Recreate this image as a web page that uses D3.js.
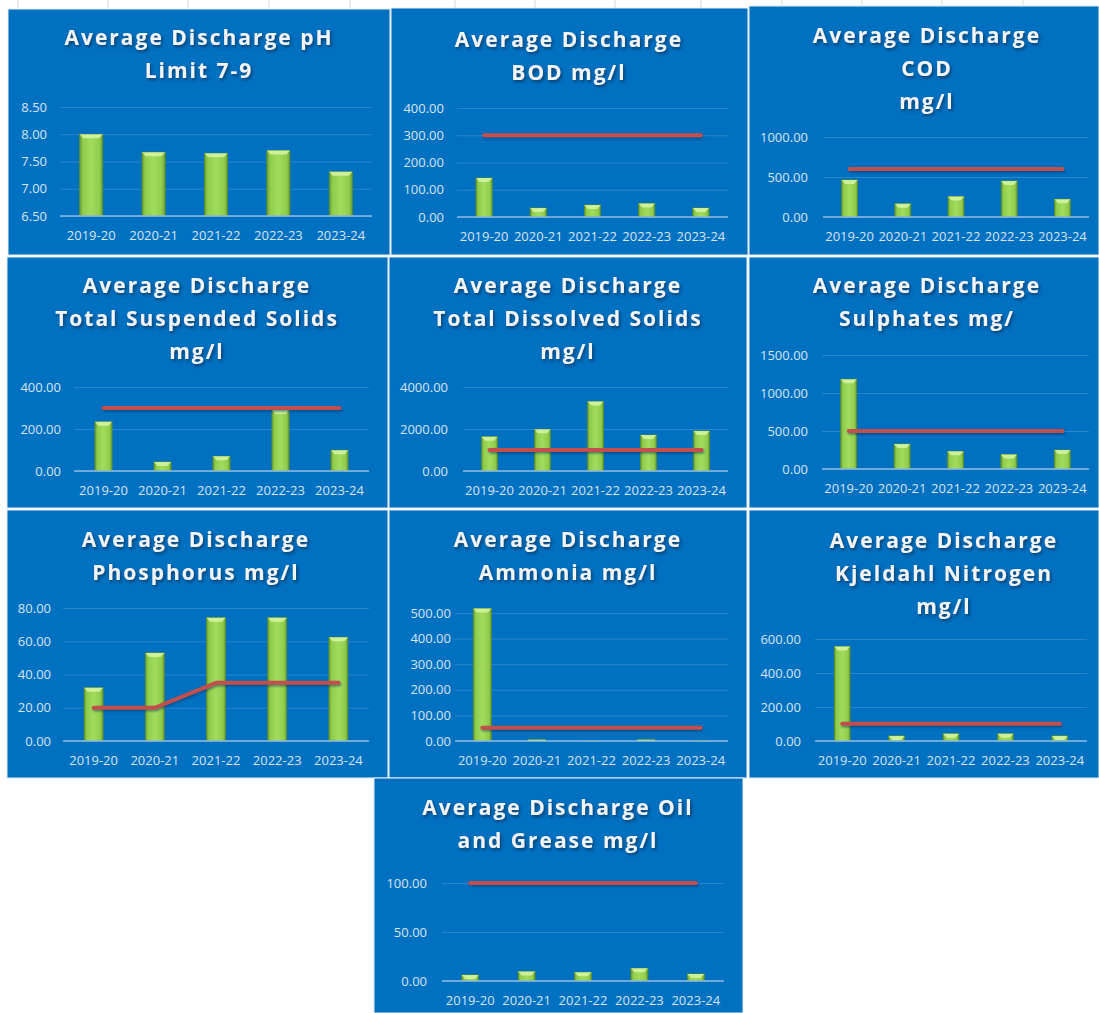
<!DOCTYPE html>
<html>
<head>
<meta charset="utf-8">
<script src="https://cdn.jsdelivr.net/npm/d3@7"></script>
<style>
  body { margin: 0; background: #ffffff; }
  svg { display: block; }
  .tick-label { font-family: "Open Sans", sans-serif; font-size: 13px; fill: #d8e5f3; }
  .chart-title { font-family: "Open Sans", sans-serif; font-weight: 700; font-size: 21px; fill: #f2f4f6; letter-spacing: 2px; }
</style>
</head>
<body>
<div id="charts"></div>
<script>
// categories
var years = ["2019-20", "2020-21", "2021-22", "2022-23", "2023-24"];

// series values
var phValues = [8.00, 7.67, 7.65, 7.70, 7.31];
var bodValues = [143, 33, 44, 50, 33];
var bodLimit = [300, 300, 300, 300, 300];
var codValues = [463, 165, 256, 450, 223];
var codLimit = [600, 600, 600, 600, 600];
var tssValues = [234, 43, 70, 291, 99];
var tssLimit = [300, 300, 300, 300, 300];
var tdsValues = [1632, 1984, 3312, 1712, 1904];
var tdsLimit = [1000, 1000, 1000, 1000, 1000];
var sulValues = [1181, 328, 232, 192, 249];
var sulLimit = [500, 500, 500, 500, 500];
var phosValues = [32, 53, 74.2, 74.2, 62.4];
var phosLimit = [20, 20, 35, 35, 35];
var ammValues = [518, 5, 0.5, 5, 1];
var ammLimit = [52, 52, 52, 52, 52];
var kjValues = [556, 30, 43, 43, 30];
var kjLimit = [102, 102, 102, 102, 102];
var oilValues = [6.2, 9.6, 8.9, 13, 7.2];
var oilLimit = [100, 100, 100, 100, 100];

// tick labels
var phTicks = [6.5, 7, 7.5, 8, 8.5];
var bodTicks = [0, 100, 200, 300, 400];
var codTicks = [0, 500, 1000];
var tssTicks = [0, 200, 400];
var tdsTicks = [0, 2000, 4000];
var sulTicks = [0, 500, 1000, 1500];
var phosTicks = [0, 20, 40, 60, 80];
var ammTicks = [0, 100, 200, 300, 400, 500];
var kjTicks = [0, 200, 400, 600];
var oilTicks = [0, 50, 100];

// titles
var phTitle = ["Average Discharge pH", "Limit 7-9"];
var bodTitle = ["Average Discharge", "BOD mg/l"];
var codTitle = ["Average Discharge", "COD", "mg/l"];
var tssTitle = ["Average Discharge", "Total Suspended Solids", "mg/l"];
var tdsTitle = ["Average Discharge", "Total Dissolved Solids", "mg/l"];
var sulTitle = ["Average Discharge", "Sulphates mg/"];
var phosTitle = ["Average Discharge", "Phosphorus mg/l"];
var ammTitle = ["Average Discharge", "Ammonia mg/l"];
var kjTitle = ["Average Discharge", "Kjeldahl Nitrogen", "mg/l"];
var oilTitle = ["Average Discharge Oil", "and Grease mg/l"];

// layout of each panel on the page (box, plot area, title spot)
var charts = [
    {title: phTitle, values: phValues, limit: null, ticks: phTicks,
     box: [8, 9, 382, 246], plot: [60, 372, 107, 216], tx: 199, ty: 45, gap: 13, barRatio: 0.37},
    {title: bodTitle, values: bodValues, limit: bodLimit, ticks: bodTicks,
     box: [391, 8, 357, 247], plot: [457, 728, 108, 217], tx: 569, ty: 47, gap: 13, barRatio: 0.30},
    {title: codTitle, values: codValues, limit: codLimit, ticks: codTicks,
     box: [749, 6, 350, 249], plot: [823, 1089, 137, 217], tx: 927, ty: 43, gap: 15, barRatio: 0.30},
    {title: tssTitle, values: tssValues, limit: tssLimit, ticks: tssTicks,
     box: [7, 257, 381, 251], plot: [74, 369, 387, 471], tx: 197, ty: 293, gap: 13, barRatio: 0.29},
    {title: tdsTitle, values: tdsValues, limit: tdsLimit, ticks: tdsTicks,
     box: [389, 257, 358, 251], plot: [463, 728, 387, 471], tx: 568, ty: 293, gap: 15, barRatio: 0.30},
    {title: sulTitle, values: sulValues, limit: sulLimit, ticks: sulTicks,
     box: [749, 257, 350, 251], plot: [822, 1089, 355, 469], tx: 927, ty: 293, gap: 14, barRatio: 0.30},
    {title: phosTitle, values: phosValues, limit: phosLimit, ticks: phosTicks,
     box: [7, 510, 381, 268], plot: [63, 369, 608, 741], tx: 196, ty: 547, gap: 12, barRatio: 0.31},
    {title: ammTitle, values: ammValues, limit: ammLimit, ticks: ammTicks,
     box: [389, 510, 358, 268], plot: [455, 728, 613, 741], tx: 568, ty: 547, gap: 4, barRatio: 0.33},
    {title: kjTitle, values: kjValues, limit: kjLimit, ticks: kjTicks,
     box: [749, 510, 350, 268], plot: [815, 1087, 639, 741], tx: 944, ty: 548, gap: 14, barRatio: 0.29},
    {title: oilTitle, values: oilValues, limit: oilLimit, ticks: oilTicks,
     box: [374, 778, 369, 235], plot: [442, 724, 883, 981], tx: 558, ty: 815, gap: 15, barRatio: 0.30}
];

var svgWidth = 1099;
var svgHeight = 1013;

var svg = d3.select("#charts").append("svg")
    .attr("width", svgWidth)
    .attr("height", svgHeight);

var defs = svg.append("defs");

// green bar gradient
var grad = defs.append("linearGradient").attr("id", "barGrad")
    .attr("x1", "0%").attr("x2", "100%").attr("y1", "0%").attr("y2", "0%");
grad.append("stop").attr("offset", "0%").attr("stop-color", "#6b9a30");
grad.append("stop").attr("offset", "14%").attr("stop-color", "#90cd4c");
grad.append("stop").attr("offset", "50%").attr("stop-color", "#a2dc5e");
grad.append("stop").attr("offset", "86%").attr("stop-color", "#90cd4c");
grad.append("stop").attr("offset", "100%").attr("stop-color", "#6b9a30");

var shadow = defs.append("filter").attr("id", "titleShadow")
    .attr("x", "-10%").attr("y", "-30%").attr("width", "120%").attr("height", "160%");
shadow.append("feDropShadow")
    .attr("dx", 1.5).attr("dy", 2).attr("stdDeviation", 1.5)
    .attr("flood-color", "#0a2a4a").attr("flood-opacity", 0.7);

// flat lines have a zero-height box, so the filter works in page units
var lineShadow = defs.append("filter").attr("id", "lineShadow")
    .attr("filterUnits", "userSpaceOnUse")
    .attr("x", 0).attr("y", 0).attr("width", svgWidth).attr("height", svgHeight);
lineShadow.append("feDropShadow")
    .attr("dx", 1).attr("dy", 1.5).attr("stdDeviation", 1)
    .attr("flood-color", "#06335a").attr("flood-opacity", 0.55);

// faint spreadsheet cell lines behind the panels
var sheetCols = [18, 108, 188, 269, 350, 455, 535, 615, 701, 782, 862, 942, 1023];
svg.append("g").selectAll("line")
    .data(sheetCols)
    .enter()
    .append("line")
    .attr("x1", function (d) { return d; })
    .attr("x2", function (d) { return d; })
    .attr("y1", 0)
    .attr("y2", 8)
    .attr("stroke", "#d9d9d9")
    .attr("stroke-width", 1);

charts.forEach(function (c) {
    var g = svg.append("g");

    g.append("rect")
        .attr("x", c.box[0])
        .attr("y", c.box[1])
        .attr("width", c.box[2])
        .attr("height", c.box[3])
        .attr("fill", "#0070c0")
        .attr("stroke", "#e8eef5")
        .attr("stroke-width", 1);

    var left = c.plot[0], right = c.plot[1], top = c.plot[2], bottom = c.plot[3];

    var xScale = d3.scaleBand()
        .domain(years)
        .range([left, right])
        .paddingInner(1 - c.barRatio)
        .paddingOuter((1 - c.barRatio) / 2);

    var yScale = d3.scaleLinear()
        .domain([c.ticks[0], c.ticks[c.ticks.length - 1]])
        .range([bottom, top]);

    // gridlines
    var grid = g.append("g")
        .attr("transform", `translate(${left},0)`)
        .call(d3.axisLeft(yScale).tickValues(c.ticks).tickSize(-(right - left)).tickFormat(""));
    grid.select(".domain").remove();
    grid.selectAll("line").attr("stroke", "#2a86cc").attr("stroke-width", 1);

    // y labels
    var yAxis = g.append("g")
        .attr("transform", `translate(${left},0)`)
        .call(d3.axisLeft(yScale).tickValues(c.ticks).tickSize(0).tickPadding(c.gap).tickFormat(d3.format(".2f")));
    yAxis.select(".domain").remove();
    yAxis.selectAll("text").attr("class", "tick-label").attr("font-size", null).attr("font-family", null);

    // bars
    var bw = xScale.bandwidth();
    var bars = g.append("g");
    bars.selectAll("rect")
        .data(c.values)
        .enter()
        .append("rect")
        .attr("x", function (d, i) { return xScale(years[i]); })
        .attr("y", function (d) { return yScale(d); })
        .attr("width", bw)
        .attr("height", function (d) { return bottom - yScale(d); })
        .attr("fill", "url(#barGrad)")
        .attr("stroke", "#5f8f28")
        .attr("stroke-width", 0.8);

    // bevel highlight on the bar tops
    bars.selectAll("path")
        .data(c.values)
        .enter()
        .append("path")
        .attr("d", function (d, i) {
            var x0 = xScale(years[i]);
            var y0 = yScale(d);
            var h = Math.min(4, bottom - y0);
            if (h <= 0.3) return "";
            var inset = Math.min(3.5, h);
            return "M" + x0 + "," + y0 + "L" + (x0 + bw) + "," + y0 +
                "L" + (x0 + bw - inset) + "," + (y0 + h) + "L" + (x0 + inset) + "," + (y0 + h) + "Z";
        })
        .attr("fill", "#d6f5a6")
        .attr("opacity", 0.85);

    // x axis
    var xAxis = g.append("g")
        .attr("transform", `translate(0,${bottom})`)
        .call(d3.axisBottom(xScale).tickSize(0).tickPadding(14.5));
    xAxis.select(".domain")
        .attr("stroke", "#8fbbe3")
        .attr("stroke-width", 1.5)
        .attr("d", "M" + left + ",0H" + right);
    xAxis.selectAll("text").attr("class", "tick-label").attr("font-size", null).attr("font-family", null);

    // limit line
    if (c.limit) {
        var limitLine = d3.line()
            .x(function (d, i) { return xScale(years[i]) + bw / 2; })
            .y(function (d) { return yScale(d); });
        g.append("path")
            .datum(c.limit)
            .attr("d", limitLine)
            .attr("fill", "none")
            .attr("stroke", "#c0504d")
            .attr("stroke-width", 4)
            .attr("stroke-linecap", "round")
            .attr("stroke-linejoin", "round")
            .attr("filter", "url(#lineShadow)");
    }

    // title
    g.append("g").selectAll("text")
        .data(c.title)
        .enter()
        .append("text")
        .attr("class", "chart-title")
        .attr("x", c.tx)
        .attr("y", function (d, i) { return c.ty + i * 33; })
        .attr("text-anchor", "middle")
        .attr("filter", "url(#titleShadow)")
        .text(function (d) { return d; });
});
</script>
</body>
</html>
